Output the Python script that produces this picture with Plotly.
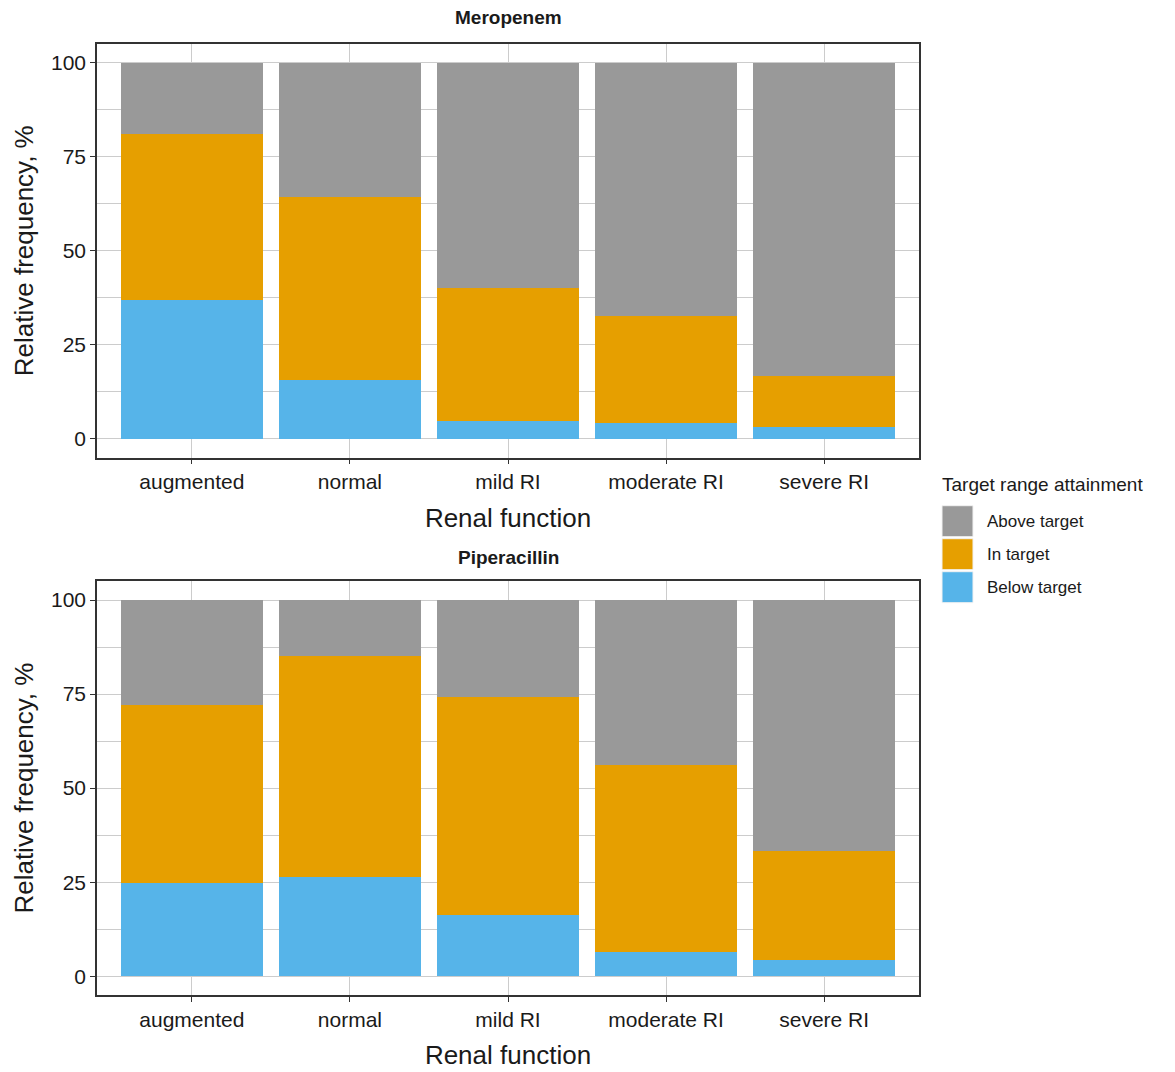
import plotly.graph_objects as go

# ---------------- data ----------------
categories = ["augmented", "normal", "mild RI", "moderate RI", "severe RI"]

mero_below = [36.9, 15.7, 4.8, 4.1, 3.1]
mero_in = [44.1, 48.7, 35.2, 28.6, 13.6]
mero_above = [19.0, 35.6, 60.0, 67.3, 83.3]

pip_below = [24.9, 26.5, 16.2, 6.3, 4.2]
pip_in = [47.3, 58.7, 58.1, 49.8, 29.0]
pip_above = [27.8, 14.8, 25.7, 43.9, 66.8]

series_names = ["Below target", "In target", "Above target"]
series_colors = ["#56B4E9", "#E69F00", "#999999"]
panel_titles = ["Meropenem", "Piperacillin"]
y_ticks = [0, 25, 50, 75, 100]

# ---------------- layout geometry (pixels) ----------------
W, H = 1175, 1072
ML, MR, MT, MB = 97, 256, 44, 77
PW = W - ML - MR
PH = H - MT - MB
FONT = "Liberation Sans, Arial, sans-serif"
TXT = "#1a1a1a"
GRID = "#cccccc"


def py(px):  # pixel y -> paper y
    return (H - MB - px) / PH


def pxx(px):  # pixel x -> paper x
    return (px - ML) / PW


fig = go.Figure()

panels = [
    (mero_below, mero_in, mero_above, "x", "y"),
    (pip_below, pip_in, pip_above, "x2", "y2"),
]
for below, intar, above, xa, ya in panels:
    for name, vals, col in zip(series_names, [below, intar, above], series_colors):
        fig.add_trace(go.Bar(
            x=categories, y=vals, name=name, xaxis=xa, yaxis=ya,
            marker=dict(color=col, line=dict(width=0)),
            width=0.9, showlegend=False,
        ))

axis_common = dict(
    showline=True, mirror=True, linecolor="#333333", linewidth=1.5,
    ticks="outside", ticklen=5, tickwidth=1, tickcolor="#333333",
    gridcolor=GRID, gridwidth=1.2,
    tickfont=dict(family=FONT, size=21, color=TXT),
    zeroline=False,
)

xcommon = dict(axis_common, type="category", categoryorder="array",
               categoryarray=categories, range=[-0.6, 4.6], showgrid=True,
               title=dict(text="Renal function",
                          font=dict(family=FONT, size=26, color=TXT),
                          standoff=16))
ycommon = dict(axis_common, range=[-5, 105], tickvals=y_ticks,
               ticktext=[str(v) for v in y_ticks], showgrid=True,
               minor=dict(dtick=12.5, tick0=0, showgrid=True,
                          gridcolor=GRID, gridwidth=1, ticks=""),
               title=dict(text="Relative frequency, %",
                          font=dict(family=FONT, size=26, color=TXT),
                          standoff=10))

top_dom = [py(457.5), 1.0]
bot_dom = [0.0, py(581.2)]

fig.update_layout(
    width=W, height=H,
    margin=dict(l=ML, r=MR, t=MT, b=MB, autoexpand=False),
    paper_bgcolor="white", plot_bgcolor="white",
    barmode="stack", bargap=0.1,
    font=dict(family=FONT, color=TXT),
    xaxis=dict(xcommon, domain=[0, 1], anchor="y"),
    yaxis=dict(ycommon, domain=top_dom, anchor="x"),
    xaxis2=dict(xcommon, domain=[0, 1], anchor="y2"),
    yaxis2=dict(ycommon, domain=bot_dom, anchor="x2"),
    showlegend=False,
)

# panel titles
for title, ypx in zip(panel_titles, [18, 557]):
    fig.add_annotation(text="<b>%s</b>" % title, xref="paper", yref="paper",
                       x=0.5, y=py(ypx), xanchor="center", yanchor="middle",
                       showarrow=False,
                       font=dict(family=FONT, size=19, color=TXT))

# manual legend (large ggplot-style keys)
fig.add_annotation(text="Target range attainment", xref="paper", yref="paper",
                   x=pxx(940), y=py(484.5), xanchor="left", yanchor="middle",
                   showarrow=False, font=dict(family=FONT, size=19, color=TXT))
legend_rows = [("Above target", "#999999", 505.7),
               ("In target", "#E69F00", 538.7),
               ("Below target", "#56B4E9", 571.7)]
for label, col, top in legend_rows:
    fig.add_shape(type="rect", xref="paper", yref="paper",
                  x0=pxx(942), x1=pxx(973), y0=py(top + 31), y1=py(top),
                  fillcolor=col, line=dict(width=1, color="#f2f2f2"))
    fig.add_annotation(text=label, xref="paper", yref="paper",
                       x=pxx(985), y=py(top + 15.5), xanchor="left",
                       yanchor="middle", showarrow=False,
                       font=dict(family=FONT, size=17, color=TXT))

fig.write_html("out.html")
